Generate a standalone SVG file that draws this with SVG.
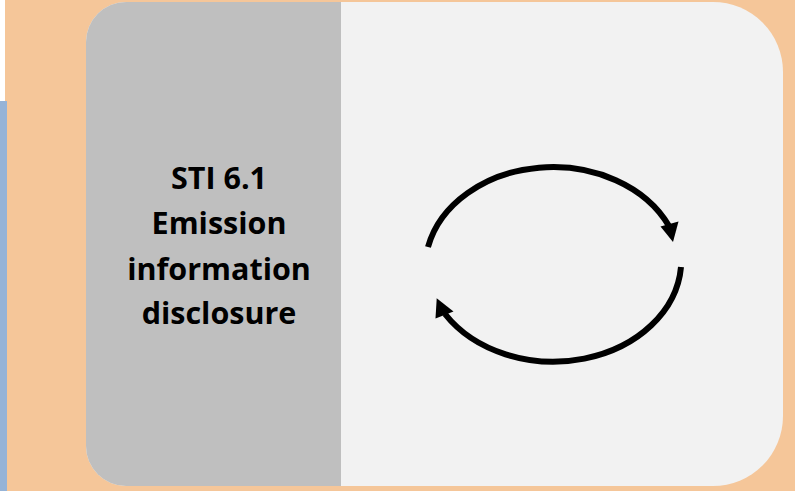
<svg xmlns="http://www.w3.org/2000/svg" width="795" height="491" viewBox="0 0 795 491">
  <style>
    .label { font-family: "Open Sans", "Liberation Sans", sans-serif; font-weight: bold; font-size: 30.5px; fill: #000000; text-anchor: middle; }
    .arc { fill: none; stroke: #000000; stroke-width: 6; stroke-linecap: butt; }
    .head { fill: #000000; }
  </style>
  <rect x="0" y="0" width="795" height="491" fill="#F5C699"/>
  <rect x="0" y="0" width="5" height="101" fill="#FFFFFF"/>
  <rect x="0" y="101" width="7" height="390" fill="#95B3D7"/>
  <g id="panel">
    <path d="M 126 2 H 713 A 70 70 0 0 1 783 72 V 416 A 70 70 0 0 1 713 486 H 126 A 40 40 0 0 1 86 446 V 42 A 40 40 0 0 1 126 2 Z" fill="#F2F2F2"/>
  </g>
  <g id="node-sti61">
    <path d="M 126 2 H 341 V 486 H 126 A 40 40 0 0 1 86 446 V 42 A 40 40 0 0 1 126 2 Z" fill="#BFBFBF"/>
    <text class="label" x="219" y="188.5">STI 6.1</text>
    <text class="label" x="219" y="234">Emission</text>
    <text class="label" x="219" y="279.5">information</text>
    <text class="label" x="219" y="323.5">disclosure</text>
  </g>
  <g id="connectors">
    <path class="arc" d="M 428 247 A 128 102 0 0 1 669 226"/>
    <polygon class="head" points="673,242 660.5,226.5 678.5,221.5"/>
    <path class="arc" d="M 681 267 A 128 102 0 0 1 445 314"/>
    <polygon class="head" points="436.7,298.3 435.5,318.5 453.5,311.5"/>
  </g>
</svg>
